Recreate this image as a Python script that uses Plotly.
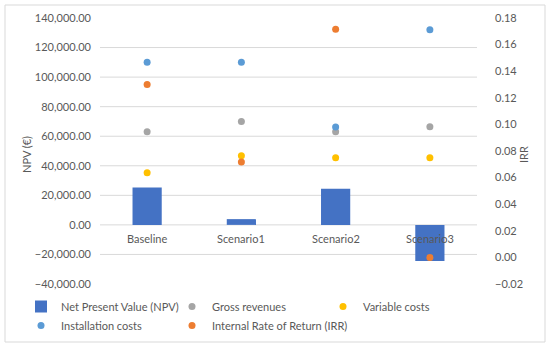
import plotly.graph_objects as go

categories = ["Baseline", "Scenario1", "Scenario2", "Scenario3"]
npv = [25300, 3900, 24400, -24400]
gross_revenues = [63000, 70000, 63000, 66400]
variable_costs = [35300, 46800, 45400, 45400]
installation_costs = [110000, 110000, 66200, 132000]
irr = [0.130, 0.0717, 0.1715, 0.0]

grid_vals = [-20000, 0, 20000, 40000, 60000, 80000, 100000, 120000]

FONT = "Lato"
TXT = "#595959"
GRID = "#D9D9D9"

fig = go.Figure()
fig.add_trace(go.Bar(x=categories, y=npv, name="Net Present Value (NPV)",
                     marker=dict(color="#4472C4", line=dict(width=0)), width=0.31,
                     legend="legend"))
ms = 7
fig.add_trace(go.Scatter(x=categories, y=gross_revenues, name="Gross revenues", mode="markers",
                         marker=dict(color="#A5A5A5", size=ms), legend="legend2"))
fig.add_trace(go.Scatter(x=categories, y=variable_costs, name="Variable costs", mode="markers",
                         marker=dict(color="#FFC000", size=ms), legend="legend3"))
fig.add_trace(go.Scatter(x=categories, y=installation_costs, name="Installation costs", mode="markers",
                         marker=dict(color="#5B9BD5", size=ms), legend="legend"))
fig.add_trace(go.Scatter(x=categories, y=irr, name="Internal Rate of Return (IRR)", mode="markers",
                         marker=dict(color="#ED7D31", size=ms), yaxis="y2", legend="legend2"))

shapes = [dict(type="line", xref="paper", x0=0, x1=1, yref="y", y0=v, y1=v,
               line=dict(color=GRID, width=1), layer="below") for v in grid_vals]
# outer chart border
shapes.append(dict(type="rect", xref="paper", yref="paper",
                   x0=(5 - 100) / 377, x1=(545 - 100) / 377,
                   y0=(284 - 342) / 266, y1=(284 - 5) / 266,
                   line=dict(color="#D9D9D9", width=1)))

annotations = [dict(x=c, y=0, xref="x", yref="y", text=c, showarrow=False, yshift=-14,
                    font=dict(family=FONT, size=11, color=TXT)) for c in categories]
annotations.append(dict(x=(27 - 100) / 377, y=0.485, xref="paper", yref="paper", text="NPV (€)",
                        xanchor="center", yanchor="middle",
                        textangle=-90, showarrow=False, font=dict(family=FONT, size=11, color=TXT)))
annotations.append(dict(x=(524 - 100) / 377, y=0.485, xref="paper", yref="paper", text="IRR",
                        xanchor="center", yanchor="middle",
                        textangle=-90, showarrow=False, font=dict(family=FONT, size=11, color=TXT)))

legend_common = dict(orientation="v", xanchor="left", yanchor="top", y=(284 - 292) / 266,
                     tracegroupgap=0, font=dict(family=FONT, size=11, color=TXT),
                     itemclick=False, bgcolor="rgba(0,0,0,0)")

fig.update_layout(
    width=550, height=348,
    margin=dict(l=100, r=73, t=18, b=64, autoexpand=False),
    paper_bgcolor="white", plot_bgcolor="white",
    font=dict(family=FONT, size=11, color=TXT),
    showlegend=True,
    legend=dict(x=(21 - 100) / 377, **legend_common),
    legend2=dict(x=(172 - 100) / 377, **legend_common),
    legend3=dict(x=(323 - 100) / 377, **legend_common),
    xaxis=dict(showticklabels=False, showgrid=False, showline=False, zeroline=False, ticks=""),
    yaxis=dict(range=[-40000, 140000], dtick=20000, tickformat=",.2f", showgrid=False,
               zeroline=False, showline=False, ticklabelstandoff=8, automargin=False),
    yaxis2=dict(range=[-0.02, 0.18], dtick=0.02, tickformat=".2f", overlaying="y", side="right",
                showgrid=False, zeroline=False, showline=False, ticklabelstandoff=17,
                automargin=False),
    shapes=shapes,
    annotations=annotations,
)

fig.write_html("out.html", post_script="document.body.style.margin='0';",
               config={"displayModeBar": False})
